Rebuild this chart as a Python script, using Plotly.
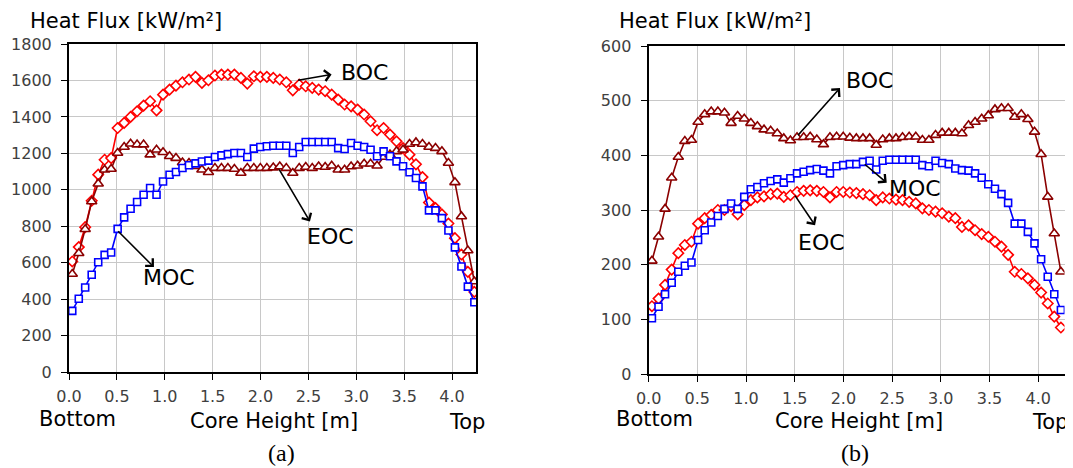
import plotly.graph_objects as go

# the page keeps the browser's 8px body margin; figure fills the rest of the view
W, H = 1073, 468
OFF = 8
FW, FH = W - OFF, H - OFF

HEIGHT = [0.034, 0.102, 0.169, 0.237, 0.305, 0.372, 0.440, 0.508, 0.576, 0.643,
          0.711, 0.779, 0.847, 0.914, 0.982, 1.050, 1.117, 1.185, 1.253, 1.321,
          1.388, 1.456, 1.524, 1.592, 1.659, 1.727, 1.795, 1.862, 1.930, 1.998,
          2.066, 2.133, 2.201, 2.269, 2.337, 2.404, 2.472, 2.540, 2.607, 2.675,
          2.743, 2.811, 2.878, 2.946, 3.014, 3.082, 3.149, 3.217, 3.285, 3.352,
          3.420, 3.488, 3.556, 3.623, 3.691, 3.759, 3.827, 3.894, 3.962, 4.030,
          4.098, 4.165, 4.233]

# (a) left chart
A_RED = [607, 686, 795, 940, 1083, 1165, 1174, 1339, 1367, 1400, 1431, 1462, 1486, 1436,
         1522, 1550, 1572, 1590, 1605, 1620, 1587, 1601, 1627, 1632, 1632, 1632, 1614, 1583,
         1623, 1620, 1620, 1614, 1605, 1590, 1546, 1577, 1568, 1559, 1550, 1541, 1522, 1495,
         1468, 1458, 1440, 1413, 1376, 1327, 1339, 1303, 1266, 1229, 1193, 1140, 1070, 930,
         900, 865, 815, 735, 645, 550, 440]
A_BLUE = [336, 402, 464, 534, 603, 643, 656, 786, 849, 896, 933, 973, 1010, 973, 1046,
          1083, 1098, 1120, 1135, 1145, 1155, 1160, 1180, 1189, 1196, 1202, 1202, 1180,
          1226, 1235, 1239, 1242, 1242, 1242, 1202, 1235, 1262, 1262, 1262, 1262, 1262,
          1229, 1224, 1257, 1242, 1235, 1220, 1184, 1211, 1184, 1156, 1129, 1096, 1065,
          1019, 887, 887, 845, 777, 684, 579, 469, 383]
A_BROWN = [538, 652, 784, 936, 1033, 1110, 1114, 1202, 1235, 1253, 1248, 1248, 1193, 1220,
           1206, 1184, 1174, 1150, 1147, 1129, 1110, 1096, 1119, 1119, 1119, 1114, 1092,
           1119, 1119, 1119, 1119, 1122, 1128, 1119, 1092, 1119, 1125, 1119, 1128, 1125,
           1132, 1110, 1110, 1128, 1132, 1143, 1143, 1132, 1180, 1193, 1211, 1220, 1251,
           1260, 1251, 1235, 1229, 1211, 1147, 1041, 854, 667, 497]

# (b) right chart
B_RED = [124, 138, 163, 191, 221, 236, 242, 275, 285, 291, 300, 300, 307, 292, 309, 318,
         323, 325, 329, 330, 324, 327, 333, 335, 336, 335, 333, 323, 333, 333, 332, 331,
         329, 327, 318, 323, 321, 319, 318, 315, 312, 303, 300, 297, 294, 288, 285, 269,
         272, 263, 256, 251, 242, 233, 218, 187, 183, 175, 163, 149, 129, 105, 85]
B_BLUE = [102, 123, 146, 167, 187, 198, 204, 245, 263, 277, 289, 302, 312, 302, 324, 338,
          342, 349, 353, 356, 350, 358, 367, 370, 373, 375, 372, 367, 380, 382, 384, 384,
          388, 390, 374, 390, 392, 392, 392, 392, 392, 382, 380, 390, 386, 384, 376, 373,
          372, 367, 359, 347, 339, 329, 313, 275, 275, 260, 239, 210, 178, 146, 117]
B_BROWN = [207, 251, 302, 359, 397, 426, 428, 461, 475, 480, 480, 478, 459, 472, 467, 459,
           453, 447, 445, 440, 431, 427, 433, 433, 434, 429, 420, 433, 434, 434, 432, 431,
           431, 431, 419, 429, 431, 431, 433, 434, 434, 428, 428, 437, 441, 441, 441, 440,
           455, 461, 467, 473, 484, 486, 486, 470, 475, 466, 443, 402, 324, 257, 187]

X_TICKS = [0.0, 0.5, 1.0, 1.5, 2.0, 2.5, 3.0, 3.5, 4.0]
X_TICK_TEXT = ["0.0", "0.5", "1.0", "1.5", "2.0", "2.5", "3.0", "3.5", "4.0"]
A_Y_TICKS = [0, 200, 400, 600, 800, 1000, 1200, 1400, 1600, 1800]
B_Y_TICKS = [0, 100, 200, 300, 400, 500, 600]

RED, BLUE, BROWN = "#ff0000", "#0000ff", "#8b0000"
FONT = "DejaVu Sans"


def px(x):
    return (x - OFF) / FW


def py(y):
    return 1 - (y - OFF) / FH


fig = go.Figure()


def add(xa, ya, vals, color, symbol, size):
    fig.add_trace(go.Scatter(
        x=HEIGHT, y=vals, xaxis=xa, yaxis=ya, mode="lines+markers",
        line=dict(color=color, width=1.6),
        marker=dict(symbol=symbol, size=size, color="white",
                    line=dict(color=color, width=1.6)),
        showlegend=False, hoverinfo="skip"))


add("x", "y", A_RED, RED, "diamond", 8)
add("x", "y", A_BROWN, BROWN, "triangle-up", 9)
add("x", "y", A_BLUE, BLUE, "square", 7)
add("x2", "y2", B_RED, RED, "diamond", 8)
add("x2", "y2", B_BLUE, BLUE, "square", 7)
add("x2", "y2", B_BROWN, BROWN, "triangle-up", 9)

axis_common = dict(showline=True, linecolor="black", linewidth=2, mirror=True,
                   showgrid=True, gridcolor="#c8c8c8", gridwidth=1, zeroline=False,
                   automargin=False,
                   ticks="outside", ticklen=6, tickcolor="black", tickwidth=1,
                   tickfont=dict(family=FONT, size=16, color="#404040"))

fig.update_layout(
    width=FW, height=FH, margin=dict(l=0, r=0, t=0, b=0, autoexpand=False),
    paper_bgcolor="white", plot_bgcolor="white",
    xaxis=dict(domain=[px(69), px(476)], range=[0, 4.25], tickvals=X_TICKS,
               ticktext=X_TICK_TEXT, anchor="y", ticklabelstandoff=3, **axis_common),
    yaxis=dict(domain=[py(372.1), py(44)], range=[0, 1800], tickvals=A_Y_TICKS,
               anchor="x", ticklabelstandoff=6, **axis_common),
    xaxis2=dict(domain=[px(648.6), px(1064.5)], range=[0, 4.27], tickvals=X_TICKS,
                ticktext=X_TICK_TEXT, anchor="y2", ticklabelstandoff=3, **axis_common),
    yaxis2=dict(domain=[py(374), py(46)], range=[0, 600], tickvals=B_Y_TICKS,
                anchor="x2", ticklabelstandoff=6, **axis_common),
)

anns = []


def text(x, y, s, size=21, family=FONT, xanchor="center"):
    anns.append(dict(x=px(x), y=py(y), xref="paper", yref="paper", text=s,
                     showarrow=False, xanchor=xanchor, yanchor="middle",
                     font=dict(family=family, size=size, color="black")))


# titles & labels
text(28, 21, "Heat Flux [kW/m²]", size=21, xanchor="left")
text(617, 21, "Heat Flux [kW/m²]", size=21, xanchor="left")
text(77, 419, "Bottom")
text(274, 421, "Core Height [m]")
text(467, 422, "Top")
text(654, 419, "Bottom")
text(859, 421, "Core Height [m]")
text(1050, 422, "Top")
text(281, 453, "(a)", size=24, family="Liberation Serif")
text(855, 453, "(b)", size=24, family="Liberation Serif")


def arrow(xr, yr, tx, ty, hx, hy):
    anns.append(dict(x=hx, y=hy, ax=tx, ay=ty, xref=xr, yref=yr, axref=xr, ayref=yr,
                     text="", showarrow=True, arrowhead=4, arrowsize=1.3,
                     arrowwidth=1.6, arrowcolor="black"))


def label(xr, yr, x, y, s):
    anns.append(dict(x=x, y=y, xref=xr, yref=yr, text=s, showarrow=False,
                     xanchor="center", yanchor="middle",
                     font=dict(family=FONT, size=22, color="black")))


# (a)
arrow("x", "y", 2.377, 1600, 2.742, 1633)
label("x", "y", 3.09, 1645, "BOC")
arrow("x", "y", 2.185, 1120, 2.516, 826)
label("x", "y", 2.735, 742, "EOC")
arrow("x", "y", 0.498, 781, 0.887, 576)
label("x", "y", 1.044, 517, "MOC")
# (b)
arrow("x2", "y2", 1.52, 434, 1.965, 523)
label("x2", "y2", 2.273, 537, "BOC")
arrow("x2", "y2", 2.204, 386, 2.445, 350)
label("x2", "y2", 2.735, 340, "MOC")
arrow("x2", "y2", 1.493, 329, 1.709, 272)
label("x2", "y2", 1.78, 241, "EOC")

fig.update_layout(annotations=anns)
fig.write_html("out.html")
